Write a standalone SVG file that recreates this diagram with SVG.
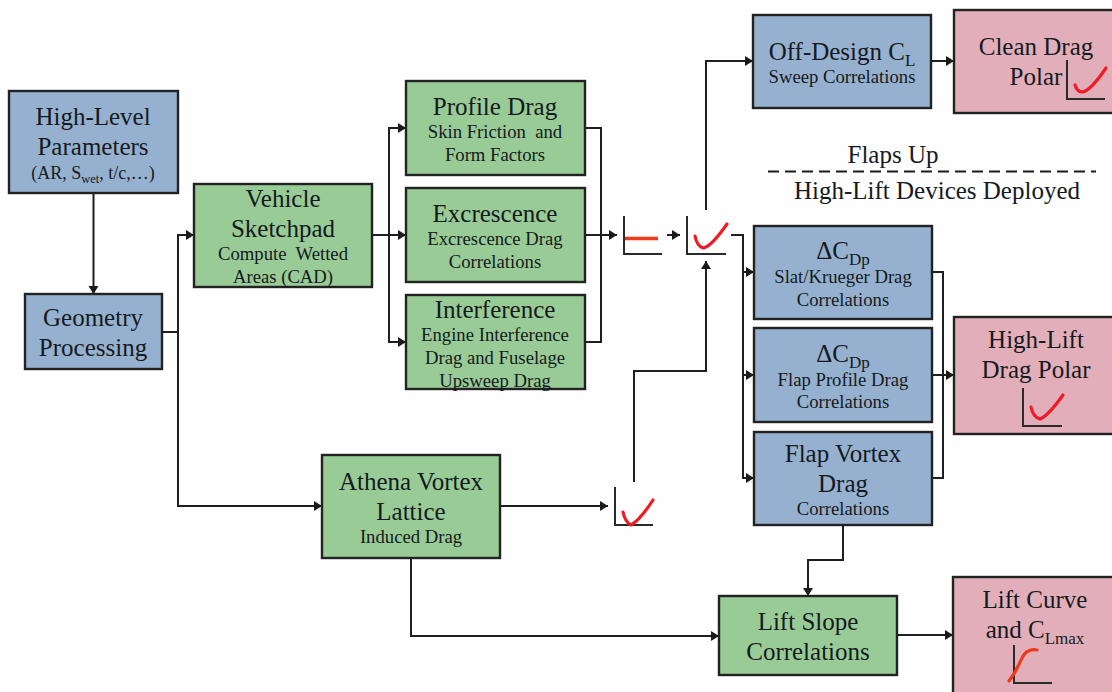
<svg xmlns="http://www.w3.org/2000/svg" width="1112" height="692" viewBox="0 0 1112 692">
<defs>
<marker id="arr" markerUnits="userSpaceOnUse" markerWidth="10" markerHeight="12" refX="8" refY="5" orient="auto"><path d="M0,0 L8,5 L0,10 Z" fill="#1a1a1a"/></marker>
</defs>
<style>
.box{stroke:#222;stroke-width:2.4}
.b{fill:#96b1cf}.g{fill:#99cb96}.p{fill:#e2aeb9}
text{font-family:"Liberation Serif","Times New Roman",serif;text-anchor:middle;fill:#141a20}
.h{font-size:25px}.s{font-size:18.7px}
.c{fill:none;stroke:#1f1f1f;stroke-width:2}
.a{marker-end:url(#arr)}
.ax{fill:none;stroke:#2a2a2a;stroke-width:2}
.r{fill:none;stroke:#ee1c25;stroke-width:3.2;stroke-linecap:round;stroke-linejoin:round}
</style>
<rect width="1112" height="692" fill="#fefefe"/>
<g id="connectors">
<path class="c a" d="M93.500,193V294"/>
<path class="c" d="M162,332H178"/>
<path class="c a" d="M178,332V235H194"/>
<path class="c a" d="M178,332V506H322"/>
<path class="c a" d="M372,235H406"/>
<path class="c a" d="M389,235V128H406"/>
<path class="c a" d="M389,235V342H406"/>
<path class="c" d="M585,128H601V342H585"/>
<path class="c a" d="M585,235H617"/>
<path class="c a" d="M667,235H680"/>
<path class="c a" d="M706,210V61H753"/>
<path class="c a" d="M634,482V371H706V261"/>
<path class="c a" d="M500,506H608"/>
<path class="c" d="M731,235H743V272"/>
<path class="c a" d="M743,272H754"/>
<path class="c a" d="M743,272V375H754"/>
<path class="c a" d="M743,375V478H754"/>
<path class="c" d="M932,272H943V478H932"/>
<path class="c a" d="M932,375H954"/>
<path class="c a" d="M931,61H954"/>
<path class="c a" d="M843,525V560H808V596"/>
<path class="c a" d="M411,558V636H719"/>
<path class="c a" d="M897,635H953"/>
</g>
<g id="n-high-level"><rect class="box b" x="9" y="91" width="169" height="102"/><text class="h" x="93" y="125">High-Level</text><text class="h" x="93" y="155">Parameters</text><text class="s" x="93" y="179" style="font-size:18px">(AR, S<tspan dy="4" font-size="12.500">wet</tspan><tspan dy="-4">, t/c,…)</tspan></text></g>
<g id="n-geometry"><rect class="box b" x="25" y="294" width="137" height="75"/><text class="h" x="93" y="326">Geometry</text><text class="h" x="93" y="356">Processing</text></g>
<g id="n-vehicle"><rect class="box g" x="194" y="184" width="178" height="103"/><text class="h" x="283" y="207">Vehicle</text><text class="h" x="283" y="237">Sketchpad</text><text class="s" x="283" y="260">Compute&#160; Wetted</text><text class="s" x="283" y="283">Areas (CAD)</text></g>
<g id="n-profile"><rect class="box g" x="406" y="81" width="179" height="94"/><text class="h" x="495" y="115">Profile Drag</text><text class="s" x="495" y="138">Skin Friction&#160; and</text><text class="s" x="495" y="161">Form Factors</text></g>
<g id="n-excrescence"><rect class="box g" x="406" y="188" width="179" height="94"/><text class="h" x="495" y="222">Excrescence</text><text class="s" x="495" y="245">Excrescence Drag</text><text class="s" x="495" y="268">Correlations</text></g>
<g id="n-interference"><rect class="box g" x="406" y="295" width="179" height="94"/><text class="h" x="495" y="318">Interference</text><text class="s" x="495" y="341">Engine Interference</text><text class="s" x="495" y="364">Drag and Fuselage</text><text class="s" x="495" y="387">Upsweep Drag</text></g>
<g id="n-athena"><rect class="box g" x="322" y="455" width="178" height="103"/><text class="h" x="411" y="490">Athena Vortex</text><text class="h" x="411" y="520">Lattice</text><text class="s" x="411" y="543">Induced Drag</text></g>
<g id="n-offdesign"><rect class="box b" x="753" y="15" width="178" height="93"/><text class="h" x="842" y="60">Off-Design C<tspan dy="6" font-size="17">L</tspan></text><text class="s" x="842" y="83">Sweep Correlations</text></g>
<g id="n-clean"><rect class="box p" x="954" y="10" width="170" height="103"/><text class="h" x="1036" y="55">Clean Drag</text><text class="h" x="1036" y="85">Polar</text></g>
<g id="n-slat"><rect class="box b" x="754" y="226" width="178" height="93"/><text class="h" x="843" y="259">ΔC<tspan dy="6" font-size="17">Dp</tspan></text><text class="s" x="843" y="283">Slat/Krueger Drag</text><text class="s" x="843" y="306">Correlations</text></g>
<g id="n-flapprofile"><rect class="box b" x="754" y="328" width="178" height="94"/><text class="h" x="843" y="362">ΔC<tspan dy="6" font-size="17">Dp</tspan></text><text class="s" x="843" y="386">Flap Profile Drag</text><text class="s" x="843" y="408">Correlations</text></g>
<g id="n-flapvortex"><rect class="box b" x="754" y="432" width="178" height="93"/><text class="h" x="843" y="462">Flap Vortex</text><text class="h" x="843" y="492">Drag</text><text class="s" x="843" y="515">Correlations</text></g>
<g id="n-highlift"><rect class="box p" x="954" y="317" width="170" height="117"/><text class="h" x="1036" y="348">High-Lift</text><text class="h" x="1036" y="378">Drag Polar</text></g>
<g id="n-liftslope"><rect class="box g" x="719" y="596" width="178" height="79"/><text class="h" x="808" y="630">Lift Slope</text><text class="h" x="808" y="660">Correlations</text></g>
<g id="n-liftcurve"><rect class="box p" x="953" y="577" width="170" height="125"/><text class="h" x="1035" y="608">Lift Curve</text><text class="h" x="1035" y="638">and C<tspan dy="6" font-size="17">Lmax</tspan></text></g>
<g id="labels"><text class="h" x="893" y="163">Flaps Up</text><text class="h" x="937" y="199">High-Lift Devices Deployed</text><path d="M768,171.500H1096" fill="none" stroke="#1a1a1a" stroke-width="2" stroke-dasharray="11 6"/></g>
<g id="graphs">
<path class="ax" d="M624,216V254H662"/><path d="M625,238.500H658" fill="none" stroke="#ee3a1a" stroke-width="3.600"/>
<path class="ax" d="M687,216V254H726"/><path class="r" d="M695,236Q697,246 703,248Q711,247 727,224"/>
<path class="ax" d="M615,487V525H653"/><path class="r" d="M623,512Q625,522 631,525Q640,520 653,500"/>
<path class="ax" d="M1067,60V99H1105"/><path class="r" d="M1075,85Q1077,92 1083,92Q1091,90 1106,68"/>
<path class="ax" d="M1023,388V426H1062"/><path class="r" d="M1031,407Q1033,417 1040,419Q1048,416 1063,395"/>
<path class="ax" d="M1014,645V683H1052"/><path d="M1009,681Q1016,672 1021,660Q1026,648 1037,650" fill="none" stroke="#ee3a1a" stroke-width="3.200" stroke-linecap="round"/>
</g>
</svg>
